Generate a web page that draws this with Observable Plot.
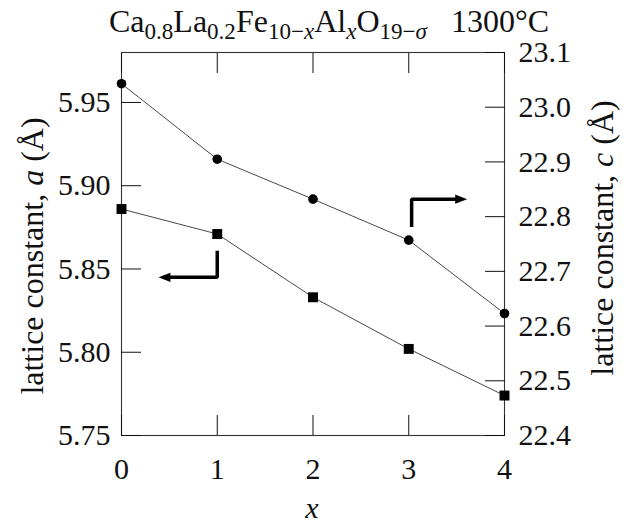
<!DOCTYPE html>
<html><head><meta charset="utf-8">
<script src="https://cdn.jsdelivr.net/npm/d3@7"></script>
<script src="https://cdn.jsdelivr.net/npm/@observablehq/plot@0.6"></script>
<style>
body{margin:0;background:#fff;}
#wrap{width:629px;font-family:'Liberation Serif',serif;color:#111;}
#title{position:relative;z-index:2;height:30px;box-sizing:border-box;padding-left:109px;padding-top:6px;font-size:32px;white-space:nowrap;line-height:30px;}
#title sub{font-size:72%;line-height:0;}
#chart svg{background:transparent;}
#chart svg text{font-family:'Liberation Serif',serif !important;font-size:30px;}
</style></head><body>
<div id="wrap">
<div id="title">Ca<sub>0.8</sub>La<sub>0.2</sub>Fe<sub>10−<i>x</i></sub>Al<sub><i>x</i></sub>O<sub>19−<i>σ</i></sub>&nbsp;&nbsp;&nbsp;1300°C</div>
<div id="chart"></div>
</div>
<script>
const xValues = [0, 1, 2, 3, 4];
const aValues = [5.886, 5.871, 5.833, 5.802, 5.774];
const cValues = [23.043, 22.905, 22.832, 22.757, 22.623];
const aTicks = [5.75, 5.80, 5.85, 5.90, 5.95];
const cTicks = [22.4, 22.5, 22.6, 22.7, 22.8, 22.9, 23.0, 23.1];
const xTicks = [0, 1, 2, 3, 4];
const aDomain = [5.75, 5.98];
const cDomain = [22.4, 23.1];
// annotation arrows (data coordinates): shaft polyline and head tip
const leftArrowX = [1, 1, 0.466];
const leftArrowA = [5.861, 5.845, 5.845];
const leftHead = {x: 0.386, a: 5.845};
const rightArrowX = [3.03, 3.03, 3.53];
const rightArrowC = [22.781, 22.832, 22.832];
const rightHead = {x: 3.61, c: 22.832};

const cToA = d3.scaleLinear().domain(cDomain).range(aDomain);

const aData = xValues.map((x, i) => ({x, y: aValues[i]}));
const cData = xValues.map((x, i) => ({x, y: cToA(cValues[i])}));
const lPts = leftArrowX.map((x, i) => ({x, y: leftArrowA[i]}));
const rPts = rightArrowX.map((x, i) => ({x, y: cToA(rightArrowC[i])}));
const heads = [
  {x: leftHead.x, y: leftHead.a},
  {x: rightHead.x, y: cToA(rightHead.c)}
];
// arrowhead symbol, tip at origin pointing left
const headSymbol = {draw(ctx) { ctx.moveTo(0, 0); ctx.lineTo(12, -4.6); ctx.lineTo(12, 4.6); ctx.closePath(); }};

const font = "'Liberation Serif', serif";
const tickFont = {fontFamily: font, fontSize: 30, color: "#111"};
const plot = Plot.plot({
  width: 629,
  height: 495,
  marginLeft: 121,
  marginRight: 125,
  marginTop: 22,
  marginBottom: 90,
  style: {fontFamily: font, fontSize: "30px", color: "#111", background: "transparent", overflow: "visible"},
  x: {domain: [0, 4]},
  y: {domain: aDomain},
  marks: [
    Plot.frame({stroke: "#333", strokeWidth: 1.1}),
    Plot.axisX(xTicks, {...tickFont, anchor: "bottom", tickSize: -20, tickPadding: 42, label: null, tickFormat: d => String(d)}),
    Plot.axisX(xTicks, {...tickFont, anchor: "top", tickSize: -20, label: null, tickFormat: () => ""}),
    Plot.axisY(aTicks, {...tickFont, anchor: "left", tickSize: -20, tickPadding: 31, label: null, tickFormat: d => d.toFixed(2)}),
    Plot.axisY(cTicks.map(cToA), {...tickFont, anchor: "right", tickSize: -20, tickPadding: 34, label: null, tickFormat: d => cToA.invert(d).toFixed(1)}),
    Plot.line(aData, {x: "x", y: "y", stroke: "#333", strokeWidth: 0.9}),
    Plot.line(cData, {x: "x", y: "y", stroke: "#333", strokeWidth: 0.9}),
    Plot.dot(aData, {x: "x", y: "y", symbol: "square", r: 5.6, fill: "#000"}),
    Plot.dot(cData, {x: "x", y: "y", symbol: "circle", r: 4.8, fill: "#000"}),
    Plot.line(lPts, {x: "x", y: "y", stroke: "#000", strokeWidth: 3.5, strokeLinecap: "butt", strokeLinejoin: "miter"}),
    Plot.line(rPts, {x: "x", y: "y", stroke: "#000", strokeWidth: 3.5, strokeLinecap: "butt", strokeLinejoin: "miter"}),
    Plot.dot(heads.slice(0, 1), {x: "x", y: "y", symbol: headSymbol, fill: "#000", rotate: 0}),
    Plot.dot(heads.slice(1), {x: "x", y: "y", symbol: headSymbol, fill: "#000", rotate: 180})
  ]
});
document.getElementById("chart").appendChild(plot);

const svg = d3.select(plot);
function label(x, y, parts, italicIdx) {
  const t = svg.append("text").attr("transform", `translate(${x},${y}) rotate(-90)`)
    .attr("text-anchor", "middle").attr("dominant-baseline", "central")
    .style("font-size", "32px").attr("fill", "#111");
  parts.forEach((p, i) => {
    const s = t.append("tspan").text(p);
    if (i === italicIdx) s.style("font-style", "italic");
  });
}
label(32, 226, ["lattice constant, ", "a", " (Å)"], 1);
label(602, 208, ["lattice constant, ", "c", " (Å)"], 1);
svg.append("text").attr("x", 312).attr("y", 488).attr("text-anchor", "middle")
  .style("font-size", "30px").style("font-style", "italic").attr("fill", "#111").text("x");
</script>
</body></html>
